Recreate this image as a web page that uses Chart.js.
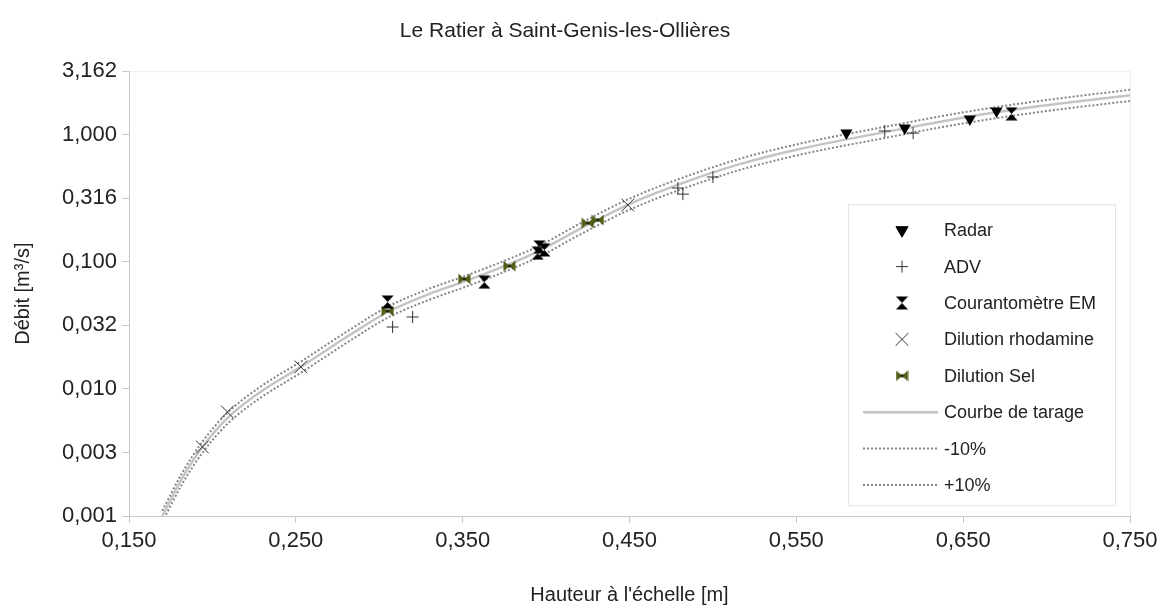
<!DOCTYPE html>
<html>
<head>
<meta charset="utf-8">
<title>Le Ratier à Saint-Genis-les-Ollières</title>
<script src="https://cdn.jsdelivr.net/npm/chart.js@4/dist/chart.umd.min.js"></script>
<style>
  html, body { margin: 0; padding: 0; background: #fff; }
  #wrap { width: 1164px; height: 613px; position: relative; }
</style>
</head>
<body>
<div id="wrap"><canvas id="chart"></canvas></div>
<script>
// --- Data (h in m, Q in m3/s) ---
var radarH = [0.580, 0.615, 0.654, 0.670];
var radarQ = [1.03, 1.13, 1.33, 1.54];

var advH = [0.308, 0.320, 0.479, 0.482, 0.500, 0.603, 0.620];
var advQ = [0.0307, 0.0368, 0.381, 0.341, 0.465, 1.07, 1.03];

var emH = [0.305, 0.363, 0.396, 0.399, 0.395, 0.679];
var emQ = [0.0483, 0.0693, 0.131, 0.124, 0.117, 1.46];

var rhoH = [0.194, 0.209, 0.253, 0.449];
var rhoQ = [0.00349, 0.00658, 0.0149, 0.280];

var selH = [0.305, 0.351, 0.378, 0.425, 0.431];
var selQ = [0.041, 0.0733, 0.0927, 0.202, 0.213];

// rating curve and its ±10% band
var curveH = [0.170, 0.182, 0.194, 0.209, 0.229, 0.253, 0.283, 0.305, 0.330, 0.350, 0.372,
              0.396, 0.420, 0.450, 0.480, 0.516, 0.552, 0.600, 0.648, 0.696, 0.750];
var curveQ = [0.00100, 0.00200, 0.00349, 0.00590, 0.00950, 0.0149, 0.0269, 0.0403, 0.0559, 0.0693, 0.0893,
              0.122, 0.181, 0.285, 0.409, 0.587, 0.773, 1.03, 1.35, 1.68, 2.05];
var minus10Q = [0.00090, 0.00180, 0.00314, 0.00531, 0.00855, 0.0134, 0.0242, 0.0363, 0.0503, 0.0624, 0.0804,
                0.110, 0.163, 0.257, 0.368, 0.528, 0.696, 0.927, 1.215, 1.512, 1.845];
var plus10Q = [0.00110, 0.00220, 0.00384, 0.00649, 0.01045, 0.0164, 0.0296, 0.0443, 0.0615, 0.0762, 0.0982,
               0.134, 0.199, 0.314, 0.450, 0.646, 0.850, 1.133, 1.485, 1.848, 2.255];

var xTicks = [0.15, 0.25, 0.35, 0.45, 0.55, 0.65, 0.75];
var yTicks = [0.001, 0.0031623, 0.01, 0.031623, 0.1, 0.31623, 1, 3.1623];

var FONT = '"Liberation Sans", Arial, sans-serif';
var INK = '#222';

function pts(hs, qs) {
  return hs.map(function (h, i) { return { x: h, y: qs[i] }; });
}

// --- custom marker shapes ---
function hourglass() {
  var c = document.createElement('canvas');
  c.width = 13; c.height = 14;
  var g = c.getContext('2d');
  g.fillStyle = '#000';
  g.beginPath();
  g.moveTo(0.5, 0.5); g.lineTo(12.5, 0.5); g.lineTo(6.5, 7);
  g.lineTo(12.5, 13.5); g.lineTo(0.5, 13.5); g.lineTo(6.5, 7);
  g.closePath(); g.fill();
  return c;
}
function bowtie() {
  var c = document.createElement('canvas');
  c.width = 13; c.height = 12;
  var g = c.getContext('2d');
  g.fillStyle = '#4d5e14';
  g.beginPath();
  g.moveTo(0.5, 0.5); g.lineTo(6.5, 6); g.lineTo(0.5, 11.5); g.closePath();
  g.moveTo(12.5, 0.5); g.lineTo(6.5, 6); g.lineTo(12.5, 11.5); g.closePath();
  g.fill();
  g.fillStyle = '#1d2405';
  g.fillRect(5, 4.5, 3, 3);
  return c;
}
var emIcon = hourglass();
var selIcon = bowtie();

// --- Legend drawn inside the plot, as in the original ---
var legendBox = {
  id: 'insideLegend',
  afterDatasetsDraw: function (chart) {
    var ctx = chart.ctx;
    var a = chart.chartArea;
    var left = a.right - 282, top = a.top + 133, w = 267, h = 301;
    ctx.save();
    ctx.fillStyle = '#fff';
    ctx.fillRect(left, top, w, h);
    ctx.strokeStyle = '#e4e4e4';
    ctx.lineWidth = 1;
    ctx.strokeRect(left + 0.5, top + 0.5, w, h);

    var mx = left + 54, tx = left + 96, rowH = 36.4, y0 = top + 26;
    ctx.font = '18px ' + FONT;
    ctx.textBaseline = 'middle';
    chart.data.datasets.forEach(function (ds, i) {
      var y = y0 + i * rowH;
      if (ds.showLine) {
        ctx.save();
        ctx.strokeStyle = ds.borderColor;
        ctx.lineWidth = ds.borderWidth;
        ctx.setLineDash(ds.borderDash || []);
        ctx.beginPath();
        ctx.moveTo(left + 15, y);
        ctx.lineTo(left + 90, y);
        ctx.stroke();
        ctx.restore();
      } else {
        ctx.save();
        ctx.fillStyle = ds.backgroundColor;
        ctx.strokeStyle = ds.borderColor;
        ctx.lineWidth = ds.pointBorderWidth || 1;
        Chart.helpers.drawPoint(ctx, {
          pointStyle: ds.pointStyle,
          rotation: ds.pointRotation || 0,
          radius: ds.pointRadius,
          borderWidth: ds.pointBorderWidth || 1
        }, mx, y);
        ctx.restore();
      }
      ctx.fillStyle = INK;
      ctx.fillText(ds.label, tx, y + 1);
    });
    ctx.restore();
  }
};

// light frame on top and right of the plot area
var frame = {
  id: 'frame',
  beforeDatasetsDraw: function (chart) {
    var a = chart.chartArea, ctx = chart.ctx;
    ctx.save();
    ctx.strokeStyle = '#ececec';
    ctx.lineWidth = 1;
    ctx.beginPath();
    ctx.moveTo(a.left, a.top + 0.5);
    ctx.lineTo(a.right + 0.5, a.top + 0.5);
    ctx.lineTo(a.right + 0.5, a.bottom);
    ctx.stroke();
    ctx.restore();
  }
};

function fmt(v) { return Number(v).toFixed(3).replace('.', ','); }

var curveLine = {
  showLine: true, pointRadius: 0, pointHoverRadius: 0,
  cubicInterpolationMode: 'monotone', fill: false, clip: 0
};

new Chart(document.getElementById('chart'), {
  type: 'scatter',
  data: {
    datasets: [
      { label: 'Radar', data: pts(radarH, radarQ), pointStyle: 'triangle', pointRotation: 180,
        pointRadius: 7, backgroundColor: '#000', borderColor: '#000', pointBorderWidth: 0 },
      { label: 'ADV', data: pts(advH, advQ), pointStyle: 'cross',
        pointRadius: 6, backgroundColor: '#333', borderColor: '#333', pointBorderWidth: 1 },
      { label: 'Courantomètre EM', data: pts(emH, emQ), pointStyle: emIcon,
        pointRadius: 6, backgroundColor: '#000', borderColor: '#000' },
      { label: 'Dilution rhodamine', data: pts(rhoH, rhoQ), pointStyle: 'crossRot',
        pointRadius: 9, backgroundColor: '#333', borderColor: '#333', pointBorderWidth: 1 },
      { label: 'Dilution Sel', data: pts(selH, selQ), pointStyle: selIcon,
        pointRadius: 6, backgroundColor: '#4d5e14', borderColor: '#4d5e14' },
      Object.assign({ label: 'Courbe de tarage', data: pts(curveH, curveQ),
        borderColor: '#c4c4c4', borderWidth: 2.5 }, curveLine),
      Object.assign({ label: '-10%', data: pts(curveH, minus10Q),
        borderColor: '#858585', borderWidth: 2, borderDash: [2, 2] }, curveLine),
      Object.assign({ label: '+10%', data: pts(curveH, plus10Q),
        borderColor: '#858585', borderWidth: 2, borderDash: [2, 2] }, curveLine)
    ]
  },
  options: {
    responsive: true,
    maintainAspectRatio: false,
    animation: false,
    layout: { padding: { top: 0, right: 34, bottom: 0, left: 0 } },
    plugins: {
      legend: { display: false },
      tooltip: { enabled: false },
      title: {
        display: true,
        text: 'Le Ratier à Saint-Genis-les-Ollières',
        color: INK,
        font: { family: FONT, size: 21, weight: 'normal' },
        padding: { top: 19, bottom: 27 }
      }
    },
    scales: {
      x: {
        type: 'linear',
        min: 0.15, max: 0.75,
        afterBuildTicks: function (scale) {
          scale.ticks = xTicks.map(function (v) { return { value: v }; });
        },
        afterFit: function (scale) { scale.height = 97; },
        ticks: { color: INK, font: { family: FONT, size: 22 }, padding: 5,
                 autoSkip: false, maxRotation: 0, callback: fmt },
        grid: { drawOnChartArea: false, drawTicks: true, tickLength: 7, color: '#c8c8c8' },
        border: { color: '#c8c8c8' },
        title: { display: true, text: "Hauteur à l'échelle [m]", color: INK,
                 font: { family: FONT, size: 20 }, padding: { top: 0, bottom: 6 } }
      },
      y: {
        type: 'logarithmic',
        min: yTicks[0], max: yTicks[yTicks.length - 1],
        afterBuildTicks: function (scale) {
          scale.ticks = yTicks.map(function (v) { return { value: v }; });
        },
        afterFit: function (scale) { scale.width = 129; },
        ticks: { color: INK, font: { family: FONT, size: 22 }, padding: 5,
                 autoSkip: false, callback: fmt },
        grid: { drawOnChartArea: false, drawTicks: true, tickLength: 7, color: '#c8c8c8' },
        border: { color: '#c8c8c8' },
        title: { display: true, text: 'Débit [m³/s]', color: INK,
                 font: { family: FONT, size: 20 }, padding: { top: 11, bottom: 0 } }
      }
    }
  },
  plugins: [frame, legendBox]
});
</script>
</body>
</html>
